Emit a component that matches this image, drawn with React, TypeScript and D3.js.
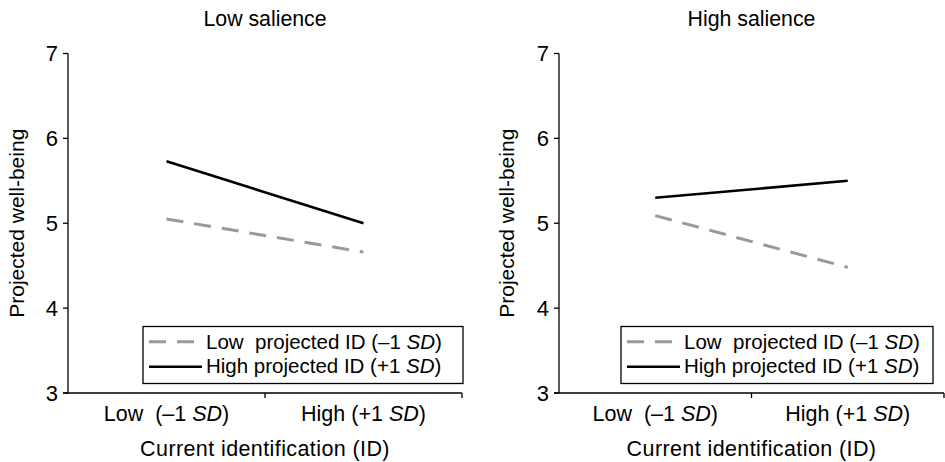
import * as d3 from "d3";

const width = 945;
const height = 462;
const font = "'Liberation Sans', Arial, Helvetica, sans-serif";

// data
const panelTitles = ["Low salience", "High salience"];
const xCategories = ["low", "high"];
const xTickPrefix = ["Low \u00a0(\u20131 ", "High (+1 "];
const seriesNames = ["Low\u00a0 projected ID (\u20131 ", "High projected ID (+1 "];
const lowSalienceLowProj = [5.05, 4.66];
const lowSalienceHighProj = [5.73, 5.0];
const highSalienceLowProj = [5.09, 4.48];
const highSalienceHighProj = [5.3, 5.5];
const yTicks = [3, 4, 5, 6, 7];

const panels = [
  {
    title: panelTitles[0],
    low: lowSalienceLowProj,
    high: lowSalienceHighProj,
    x0: 68,
    x1: 462,
    yLabelX: 24,
    legend: { x: 143, w: 320 },
  },
  {
    title: panelTitles[1],
    low: highSalienceLowProj,
    high: highSalienceHighProj,
    x0: 559,
    x1: 944,
    yLabelX: 514,
    legend: { x: 621, w: 312 },
  },
];

const yScale = d3.scaleLinear().domain([3, 7]).range([393, 53.5]);

const Panel = ({ p }) => {
  const xScale = d3.scaleBand().domain(xCategories).range([p.x0, p.x1]).padding(0);
  const cx = (c) => xScale(c) + xScale.bandwidth() / 2;
  const line = d3
    .line()
    .x((d, i) => cx(xCategories[i]))
    .y((d) => yScale(d));
  const mid = (p.x0 + p.x1) / 2;
  const yMid = (yScale(3) + yScale(7)) / 2;
  const boundaries = [...xCategories.map((c) => xScale(c)), p.x1];
  const lg = p.legend;

  return (
    <g fontFamily={font} fill="#000">
      <text x={mid} y={26} fontSize={21.3} textAnchor="middle">
        {p.title}
      </text>

      {/* y axis */}
      <line x1={p.x0} x2={p.x0} y1={yScale(7)} y2={yScale(3)} stroke="#000" strokeWidth={1.3} />
      {yTicks.map((t) => (
        <g key={t}>
          <line x1={p.x0 - 5} x2={p.x0} y1={yScale(t)} y2={yScale(t)} stroke="#000" strokeWidth={1.3} />
          <text x={p.x0 - 10} y={yScale(t)} dy="0.36em" fontSize={22} textAnchor="end">
            {t}
          </text>
        </g>
      ))}
      <text
        transform={`translate(${p.yLabelX},${yMid}) rotate(-90)`}
        fontSize={21}
        textAnchor="middle"
      >
        Projected well-being
      </text>

      {/* x axis */}
      <line x1={p.x0 - 5} x2={p.x1} y1={yScale(3)} y2={yScale(3)} stroke="#000" strokeWidth={1.3} />
      {boundaries.slice(1).map((b, i) => (
        <line key={i} x1={b} x2={b} y1={yScale(3)} y2={yScale(3) + 5} stroke="#000" strokeWidth={1.3} />
      ))}
      {xCategories.map((c, i) => (
        <text key={c} x={cx(c)} y={421} fontSize={21.5} textAnchor="middle">
          {xTickPrefix[i]}
          <tspan fontStyle="italic">SD</tspan>)
        </text>
      ))}
      <text x={mid} y={456} fontSize={21.5} letterSpacing={0.4} textAnchor="middle">
        Current identification (ID)
      </text>

      {/* series */}
      <path d={line(p.low)} fill="none" stroke="#999" strokeWidth={3} strokeDasharray="17,11" />
      <path d={line(p.high)} fill="none" stroke="#000" strokeWidth={2.6} />

      {/* legend */}
      <rect x={lg.x} y={326.5} width={lg.w} height={57} fill="#fff" stroke="#000" strokeWidth={1.3} />
      <line x1={lg.x + 6} x2={lg.x + 59} y1={341.7} y2={341.7} stroke="#999" strokeWidth={3} strokeDasharray="17,11" />
      <line x1={lg.x + 6} x2={lg.x + 59} y1={366.7} y2={366.7} stroke="#000" strokeWidth={2.6} />
      {seriesNames.map((s, i) => (
        <text key={s} x={lg.x + 63} y={348.5 + i * 24} fontSize={20.5}>
          {s}
          <tspan fontStyle="italic">SD</tspan>)
        </text>
      ))}
    </g>
  );
};

export default function App() {
  return (
    <svg
      width={width}
      height={height}
      style={{ position: "absolute", left: 0, top: 0, background: "#fff" }}
    >
      <rect width={width} height={height} fill="#fff" />
      {panels.map((p) => (
        <Panel key={p.title} p={p} />
      ))}
    </svg>
  );
}
